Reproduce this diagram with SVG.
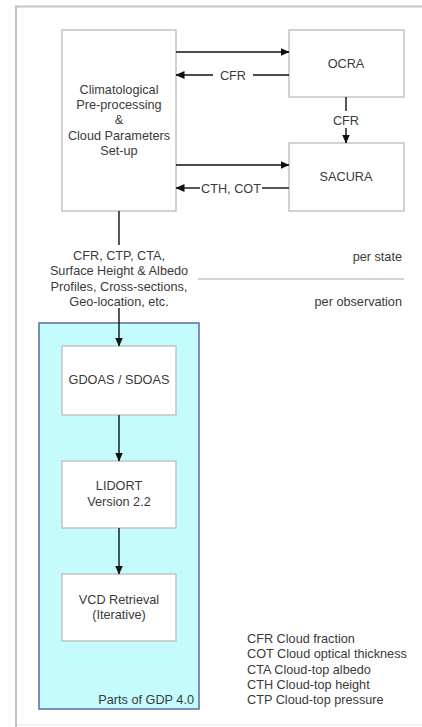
<svg xmlns="http://www.w3.org/2000/svg" width="422" height="727" viewBox="0 0 422 727">
<defs>
<marker id="ah" markerWidth="9" markerHeight="8" refX="8.5" refY="4" orient="auto" markerUnits="userSpaceOnUse">
<path d="M0,0 L9,4 L0,8 Z" fill="#111"/>
</marker>
<style>
text{font-family:"Liberation Sans",Arial,sans-serif;font-size:12.7px;fill:#3a3a3a}
.c{text-anchor:middle}
.r{text-anchor:end}
.box{fill:#fff;stroke:#c4c4c4;stroke-width:1.5}
.ln{stroke:#111;stroke-width:1.4;fill:none}
</style>
</defs>
<rect width="422" height="727" fill="#fff"/>
<path d="M16,727 V6.5 H422" fill="none" stroke="#c4c4c4" stroke-width="2"/>
<line x1="17" y1="725" x2="422" y2="725" stroke="#e4e4e4" stroke-width="1"/>
<line x1="198" y1="279" x2="404" y2="279" stroke="#c4c4c4" stroke-width="1.5"/>
<g id="gdp">
<rect x="39" y="323" width="160" height="386" fill="#c4fbfd" stroke="#5a6aa8" stroke-width="1.5"/>
<text class="r" x="194" y="704">Parts of GDP 4.0</text>
</g>
<g id="climato">
<rect class="box" x="62" y="30" width="114" height="181"/>
<text class="c" x="119" y="94">Climatological</text>
<text class="c" x="119" y="109">Pre-processing</text>
<text class="c" x="119" y="124">&amp;</text>
<text class="c" x="119" y="140">Cloud Parameters</text>
<text class="c" x="119" y="155">Set-up</text>
</g>
<g id="ocra">
<rect class="box" x="289" y="30" width="115" height="67"/>
<text class="c" x="346" y="68">OCRA</text>
</g>
<g id="sacura">
<rect class="box" x="289" y="143" width="115" height="68"/>
<text class="c" x="346" y="181">SACURA</text>
</g>
<g id="gdoas">
<rect class="box" x="62" y="346" width="114" height="69"/>
<text class="c" x="119" y="384">GDOAS / SDOAS</text>
</g>
<g id="lidort">
<rect class="box" x="62" y="461" width="114" height="67"/>
<text class="c" x="119" y="490">LIDORT</text>
<text class="c" x="119" y="506">Version 2.2</text>
</g>
<g id="vcd">
<rect class="box" x="62" y="574" width="114" height="67"/>
<text class="c" x="119" y="604">VCD Retrieval</text>
<text class="c" x="119" y="619">(Iterative)</text>
</g>
<g id="connectors">
<line class="ln" x1="176" y1="52" x2="289" y2="52" marker-end="url(#ah)"/>
<line class="ln" x1="289" y1="75" x2="253" y2="75"/>
<line class="ln" x1="213" y1="75" x2="176" y2="75" marker-end="url(#ah)"/>
<text class="c" x="233" y="79.5">CFR</text>
<line class="ln" x1="346" y1="97" x2="346" y2="111"/>
<line class="ln" x1="346" y1="128" x2="346" y2="143" marker-end="url(#ah)"/>
<text class="c" x="346" y="125">CFR</text>
<line class="ln" x1="176" y1="165" x2="289" y2="165" marker-end="url(#ah)"/>
<line class="ln" x1="289" y1="188" x2="262" y2="188"/>
<line class="ln" x1="200" y1="188" x2="176" y2="188" marker-end="url(#ah)"/>
<text class="c" x="231" y="192.5">CTH, COT</text>
<line class="ln" x1="119" y1="211" x2="119" y2="245"/>
<line class="ln" x1="119" y1="308" x2="119" y2="346" marker-end="url(#ah)"/>
<text class="c" x="119" y="259.5">CFR, CTP, CTA,</text>
<text class="c" x="119" y="275">Surface Height &amp; Albedo</text>
<text class="c" x="119" y="291">Profiles, Cross-sections,</text>
<text class="c" x="119" y="306">Geo-location, etc.</text>
<line class="ln" x1="119" y1="415" x2="119" y2="461" marker-end="url(#ah)"/>
<line class="ln" x1="119" y1="528" x2="119" y2="574" marker-end="url(#ah)"/>
</g>
<g id="labels">
<text class="r" x="402" y="260.5">per state</text>
<text class="r" x="402" y="305.5">per observation</text>
<text x="247" y="642.5">CFR Cloud fraction</text>
<text x="247" y="658">COT Cloud optical thickness</text>
<text x="247" y="673.5">CTA Cloud-top albedo</text>
<text x="247" y="689">CTH Cloud-top height</text>
<text x="247" y="704">CTP Cloud-top pressure</text>
</g>
</svg>
